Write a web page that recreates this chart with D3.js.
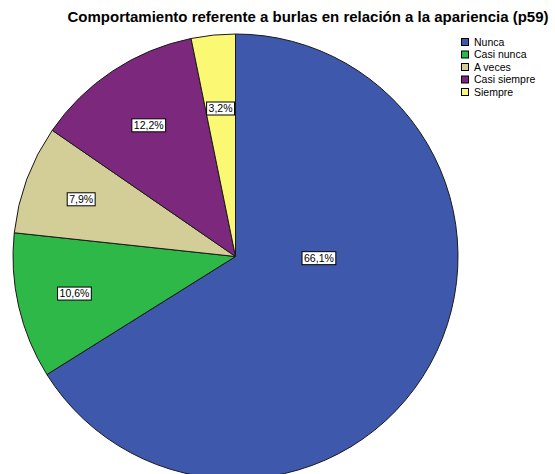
<!DOCTYPE html>
<html><head><meta charset="utf-8">
<script src="https://cdn.jsdelivr.net/npm/d3@7"></script>
<style>body{margin:0;background:#fff;} svg{display:block;}</style>
</head><body>
<svg id="c" width="555" height="474"></svg>
<script>
const title = "Comportamiento referente a burlas en relación a la apariencia (p59)";
const categories = ["Nunca", "Casi nunca", "A veces", "Casi siempre", "Siempre"];
const values = [66.1, 10.6, 7.9, 12.2, 3.2];
const colors = ["#3E58AC", "#2EB848", "#D3CE97", "#7C287D", "#FBF873"];

const svg = d3.select("#c");
const cx = 235.5, cy = 256.5, R = 222.5;
const font = "'Liberation Sans', Arial, sans-serif";

svg.append("text").attr("x", 308).attr("y", 22).attr("text-anchor", "middle")
  .attr("font-family", font).attr("font-weight", "bold").attr("font-size", 15)
  .attr("fill", "#000").text(title);

const data = categories.map((c, i) => ({cat: c, value: values[i], color: colors[i]}));
const pie = d3.pie().value(d => d.value).sort(null);
const arcs = pie(data);
const arc = d3.arc().innerRadius(0).outerRadius(R);

const g = svg.append("g").attr("transform", `translate(${cx},${cy})`);
g.selectAll("path").data(arcs).enter().append("path")
  .attr("d", arc).attr("fill", d => d.data.color)
  .attr("stroke", "#1a1a1a").attr("stroke-width", 1).attr("stroke-linejoin", "round");

const fmt = v => v.toFixed(1).replace(".", ",") + "%";
arcs.forEach(a => {
  const frac = (a.endAngle - a.startAngle) / (2 * Math.PI);
  let ang, rr;
  if (frac > 0.5) { ang = Math.PI / 2 + 0.02; rr = 0.375 * R; }
  else {
    ang = (a.startAngle + a.endAngle) / 2;
    rr = (0.66 + 0.085 * Math.abs(Math.sin(ang))) * R;
  }
  const x = rr * Math.sin(ang), y = -rr * Math.cos(ang);
  const lg = g.append("g").attr("transform", `translate(${x},${y})`);
  const t = lg.append("text").attr("text-anchor", "middle").attr("dy", "0.36em")
    .attr("font-family", font).attr("font-size", 10.5).attr("fill", "#000")
    .text(fmt(a.data.value));
  const bb = t.node().getBBox();
  lg.insert("rect", "text").attr("x", bb.x - 2).attr("y", -6.5).attr("width", bb.width + 4).attr("height", 13)
    .attr("fill", "#fff").attr("stroke", "#000").attr("stroke-width", 1);
});

const leg = svg.append("g").attr("transform", "translate(461,38)");
data.forEach((d, i) => {
  const row = leg.append("g").attr("transform", `translate(0,${i * 12.5})`);
  row.append("rect").attr("x", 0.5).attr("y", 0.5).attr("width", 7).attr("height", 7)
    .attr("fill", d.color).attr("stroke", "#000").attr("stroke-width", 1);
  row.append("text").attr("x", 13).attr("y", 4).attr("dy", "0.36em")
    .attr("font-family", font).attr("font-size", 10.5).attr("fill", "#000").text(d.cat);
});
</script>
</body></html>
